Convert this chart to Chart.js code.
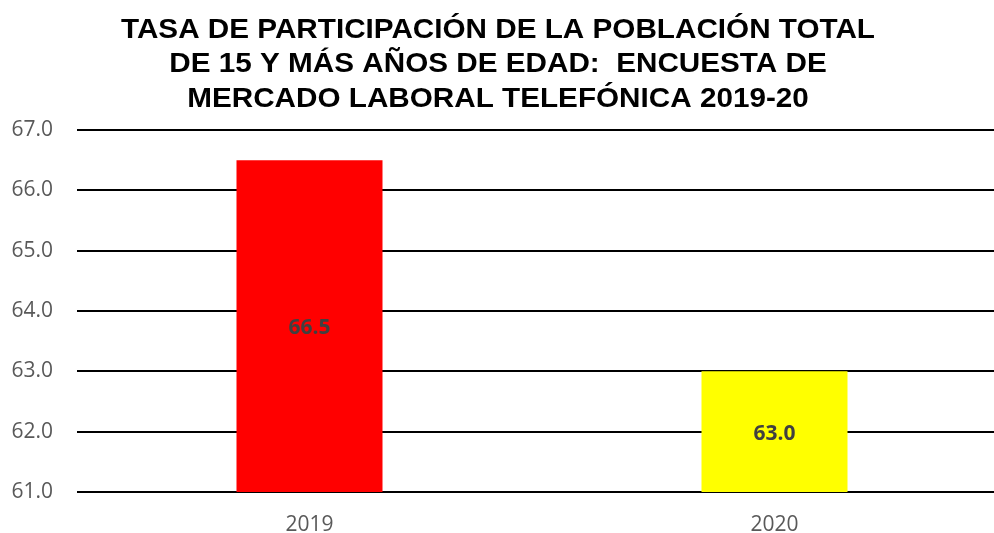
<!DOCTYPE html>
<html><head><meta charset="utf-8">
<script src="https://cdn.jsdelivr.net/npm/chart.js@4.4.1/dist/chart.umd.min.js"></script>
<style>
html,body{margin:0;padding:0;background:#fff;overflow:hidden;width:994px;height:533px;}
canvas{display:block;}
</style></head>
<body><canvas id="c" width="1007" height="533" style="width:1007px;height:533px"></canvas>
<script>
const titleLines = ["TASA DE PARTICIPACIÓN DE LA POBLACIÓN TOTAL","DE 15 Y MÁS AÑOS DE EDAD:  ENCUESTA DE","MERCADO LABORAL TELEFÓNICA 2019-20"];
const categories = ["2019","2020"];
const values = [66.5, 63.0];
const barColors = ["#FF0000","#FFFF00"];
const yMin = 61, yMax = 67, yStep = 1;

const titlePlugin = {
  id:'customTitle',
  afterDraw(chart){
    const ctx = chart.ctx;
    ctx.save();
    ctx.font = 'bold 28px "Liberation Sans", Arial, sans-serif';
    ctx.fillStyle = '#000';
    ctx.textAlign = 'center';
    ctx.textBaseline = 'middle';
    const w0 = ctx.measureText(titleLines[0]).width;
    const sx = 754 / w0;
    const cx = 498, ys = [30, 64, 99];
    titleLines.forEach((t,i)=>{
      ctx.save();
      ctx.translate(cx, ys[i]);
      ctx.scale(sx, 1);
      ctx.fillText(t, 0, 0);
      ctx.restore();
    });
    ctx.restore();
  }
};
const labelPlugin = {
  id:'barLabels',
  afterDatasetsDraw(chart){
    const ctx = chart.ctx;
    const area = chart.chartArea;
    const meta = chart.getDatasetMeta(0);
    ctx.save();
    ctx.font = 'bold 21px "Open Sans", sans-serif';
    ctx.fillStyle = '#404040';
    ctx.textAlign = 'center';
    ctx.textBaseline = 'middle';
    meta.data.forEach((bar,i)=>{
      const p = bar.getProps(['x','y','base'], true);
      const bottom = Math.min(p.base, area.bottom);
      const y = (p.y + bottom)/2 + 2;
      ctx.fillText(values[i].toFixed(1), p.x, y);
    });
    ctx.restore();
  }
};

new Chart(document.getElementById('c'), {
  type:'bar',
  data:{labels:categories, datasets:[{data:values, backgroundColor:barColors, borderWidth:0, barPercentage:0.314, categoryPercentage:1.0}]},
  options:{
    responsive:false, maintainAspectRatio:false, animation:false,
    layout:{padding:{top:130, left:12, right:0, bottom:2}},
    plugins:{legend:{display:false}, tooltip:{enabled:false}, title:{display:false}},
    scales:{
      y:{min:yMin, max:yMax, border:{display:false},
        afterFit(s){ s.width = 65; },
        grid:{color:'#000', lineWidth:2, drawTicks:false},
        ticks:{stepSize:yStep, padding:24, color:'#595959', font:{family:'"Open Sans", sans-serif', size:21},
          callback:v=>Number(v).toFixed(1)}},
      x:{border:{display:false}, grid:{display:false},
        afterFit(s){ s.height = 39; },
        ticks:{padding:12, color:'#595959', font:{family:'"Open Sans", sans-serif', size:21}}}
    }
  },
  plugins:[titlePlugin, labelPlugin]
});
</script></body></html>
